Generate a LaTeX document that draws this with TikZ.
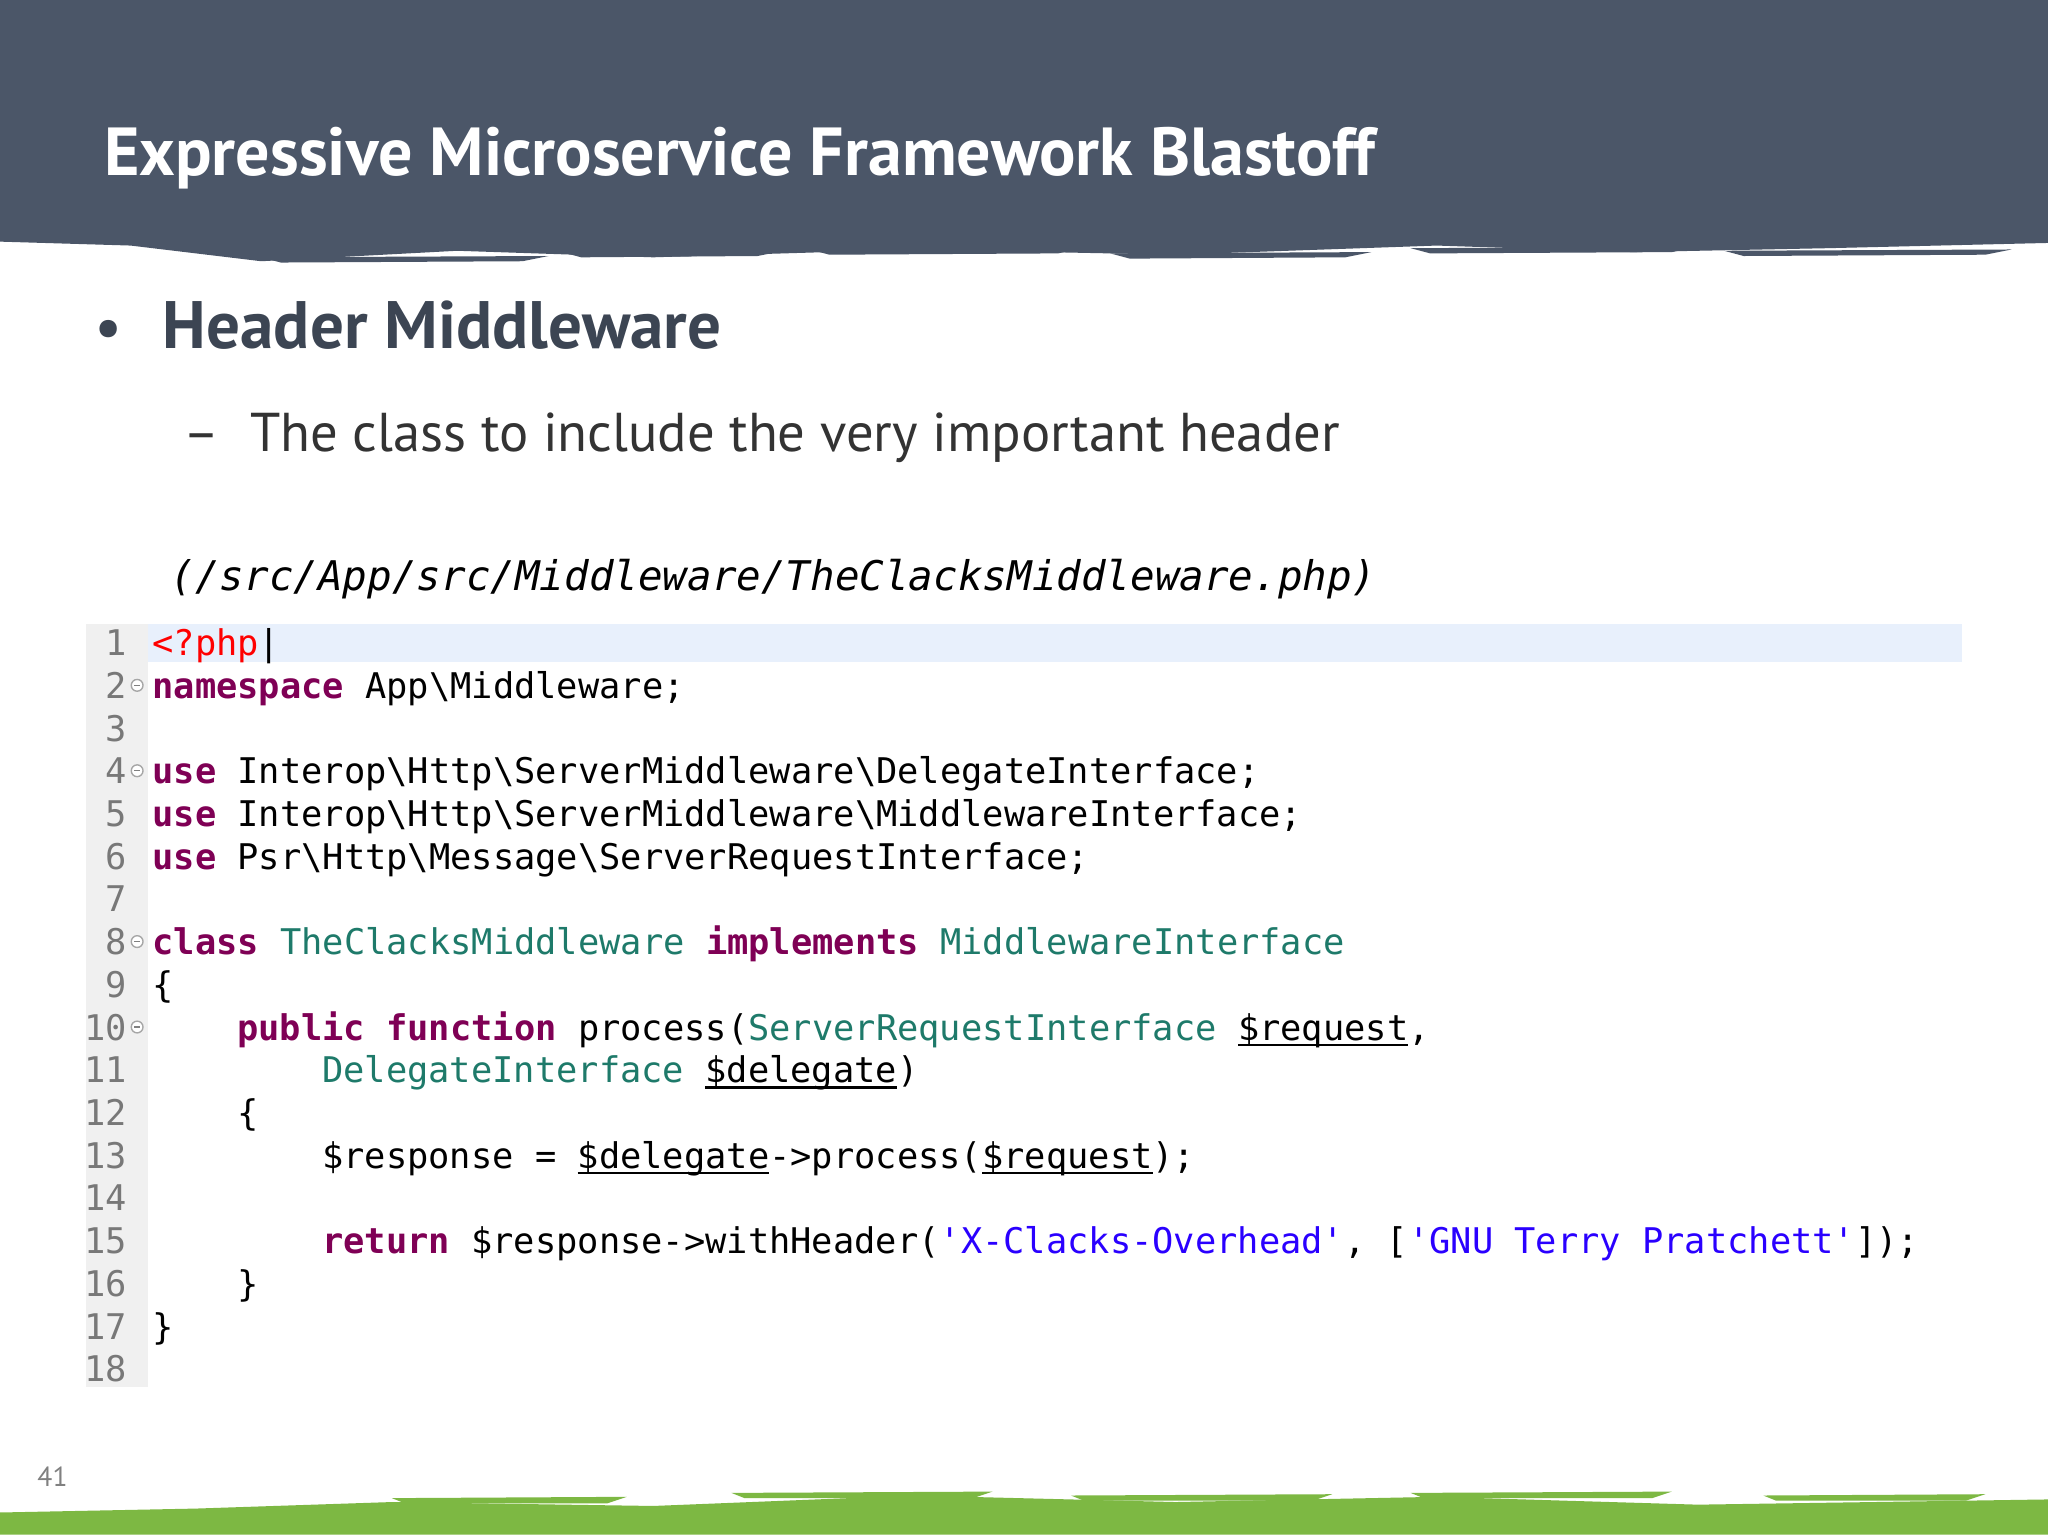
\documentclass[tikz,border=0pt]{standalone}
\usepackage{fontspec}
\setmainfont{PT Sans}
\newfontfamily\codefont{DejaVu Sans Mono}
\definecolor{hdr}{HTML}{4B5668}
\definecolor{grn}{HTML}{7DB843}
\definecolor{kw}{HTML}{7F0055}
\definecolor{ty}{HTML}{1E7A6A}
\definecolor{st}{HTML}{2A00FF}
\definecolor{gut}{HTML}{F0F0F0}
\definecolor{hl}{HTML}{E8F0FC}
\definecolor{lnum}{HTML}{787878}
\newcommand{\K}[1]{\textcolor{kw}{\bfseries #1}}
\newcommand{\T}[1]{\textcolor{ty}{#1}}
\newcommand{\Sg}[1]{\textcolor{st}{#1}}
\newcommand{\bs}{\textbackslash}
\newcommand{\U}[1]{\setbox0\hbox{#1}\rlap{\rule[-1.3pt]{\wd0}{0.5pt}}\box0}
\begin{document}
\begin{tikzpicture}[x=0.01cm,y=-0.01cm,
  code/.style={anchor=base west,inner sep=0,font=\codefont\fontsize{7.7}{9}\selectfont},
  num/.style={anchor=base east,inner sep=0,text=lnum,font=\codefont\fontsize{7.7}{9}\selectfont},
  fold/.style={circle,draw=gray!70,fill=white,inner sep=0,minimum size=0.09cm,line width=0.3pt}]
\useasboundingbox (0,0) rectangle (1568,1175);
\fill[white] (0,0) rectangle (1568,1175);
% header
\fill[hdr] (0,0) -- (1568,0) -- (1568,186) -- (1400,190) -- (1250,193) -- (1100,188) -- (900,195) -- (700,191) -- (500,197) -- (350,192) -- (200,200) -- (100,188) -- (0,185) -- cycle;
\foreach \a/\b/\c in {200/420/197,430/600/193,620/830/191,850/1050/194,1080/1300/190,1320/1540/192}
  \fill[hdr] (\a,\c) -- (\b,\c-1) -- (\b-20,\c+3) -- (\a+15,\c+4) -- cycle;
\node[anchor=base west,inner sep=0,text=white,font=\bfseries\fontsize{14.8}{17}\selectfont] (title) at (79,134) {Expressive Microservice Framework Blastoff};
% footer
\fill[grn] (0,1175) -- (0,1158) -- (150,1155) -- (300,1150) -- (500,1153) -- (700,1145) -- (900,1150) -- (1100,1146) -- (1300,1152) -- (1568,1148) -- (1568,1175) -- cycle;
\foreach \a/\b/\c in {300/480/1147,560/760/1143,820/1020/1145,1080/1280/1143,1350/1520/1145}
  \fill[grn] (\a,\c) -- (\b,\c-1) -- (\b-15,\c+4) -- (\a+10,\c+4) -- cycle;
\node[anchor=base west,inner sep=0,text=gray,font=\fontsize{6}{7}\selectfont] (pg) at (28,1138) {41};
% bullets
\node[anchor=base west,inner sep=0,text=hdr!80!black,font=\fontsize{13.6}{16}\selectfont] (b1) at (72,267) {\textbullet};
\node[anchor=base west,inner sep=0,text=hdr!80!black,font=\bfseries\fontsize{14.6}{17}\selectfont] (h1) at (124,267) {Header Middleware};
\node[anchor=base west,inner sep=0,text=black!80,font=\fontsize{11.9}{14}\selectfont] (d1) at (140,346) {--};
\node[anchor=base west,inner sep=0,text=black!80,font=\fontsize{11.9}{14}\selectfont] (s1) at (191,346) {The class to include the very important header};
\node[anchor=base west,inner sep=0,font=\itshape\codefont\fontsize{8.9}{10}\selectfont] (path) at (130,452) {(/src/App/src/Middleware/TheClacksMiddleware.php)};
% code box
\fill[gut] (66,478) rectangle (113,1062);
\fill[hl] (113,478) rectangle (1502,507);
\foreach \i in {1,...,18} \node[num] (n\i) at (98,{492+(\i-1)*32.7+10}) {\i};
\foreach \i in {2,4,8,10} {
  \node[fold] (f\i) at (105,{492+(\i-1)*32.7}) {};
  \draw[gray,line width=0.3pt] ([xshift=-0.025cm]f\i.center) -- ([xshift=0.025cm]f\i.center);
}
\newcommand{\Y}[1]{{492+(#1-1)*32.7+10}}
\node[code] (c1) at (116,\Y{1}) {\textcolor{red}{<?php}\textcolor{black}{|}};
\node[code] (c2) at (116,\Y{2}) {\K{namespace} App\bs Middleware;};
\node[code] (c4) at (116,\Y{4}) {\K{use} Interop\bs Http\bs ServerMiddleware\bs DelegateInterface;};
\node[code] (c5) at (116,\Y{5}) {\K{use} Interop\bs Http\bs ServerMiddleware\bs MiddlewareInterface;};
\node[code] (c6) at (116,\Y{6}) {\K{use} Psr\bs Http\bs Message\bs ServerRequestInterface;};
\node[code] (c8) at (116,\Y{8}) {\K{class} \T{TheClacksMiddleware} \K{implements} \T{MiddlewareInterface}};
\node[code] (c9) at (116,\Y{9}) {\{};
\node[code] (c10) at (181,\Y{10}) {\K{public} \K{function} process(\T{ServerRequestInterface} \U{\$request},};
\node[code] (c11) at (246,\Y{11}) {\T{DelegateInterface} \U{\$delegate})};
\node[code] (c12) at (181,\Y{12}) {\{};
\node[code] (c13) at (246,\Y{13}) {\$response = \U{\$delegate}->process(\U{\$request});};
\node[code] (c15) at (246,\Y{15}) {\K{return} \$response->withHeader(\Sg{'X-Clacks-Overhead'}, [\Sg{'GNU Terry Pratchett'}]);};
\node[code] (c16) at (181,\Y{16}) {\}};
\node[code] (c17) at (116,\Y{17}) {\}};
\end{tikzpicture}
\end{document}
